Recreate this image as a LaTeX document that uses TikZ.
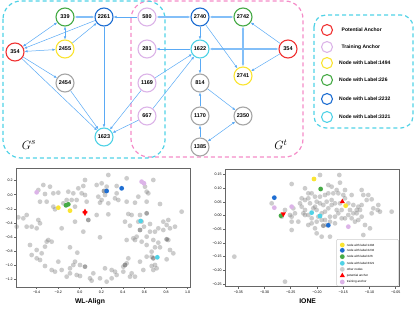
\documentclass[tikz,border=0pt]{standalone}
\usepackage{fontspec}
\setmainfont{Liberation Sans}
\usetikzlibrary{arrows.meta, shapes.geometric}
\definecolor{edgeblue}{RGB}{90,170,245}
\definecolor{ancred}{RGB}{240,50,50}
\definecolor{trplum}{RGB}{220,180,232}
\definecolor{lbyellow}{RGB}{250,228,50}
\definecolor{lbgreen}{RGB}{70,170,70}
\definecolor{lbblue}{RGB}{30,110,210}
\definecolor{lbcyan}{RGB}{80,210,230}
\definecolor{boxpink}{RGB}{245,140,200}
\tikzset{gnode/.style={circle,draw=#1,fill=white,line width=1.1pt,minimum size=18pt,inner sep=0pt,font=\fontsize{5.5}{6}\selectfont\bfseries},
  line/.style={draw=edgeblue,line width=0.5pt,-{Latex[length=3pt,width=2.6pt]}},
  biline/.style={line,{Latex[length=3pt,width=2.6pt]}-{Latex[length=3pt,width=2.6pt]}},
  pairline/.style={biline,line width=1.3pt,draw=edgeblue!75},
  groupbox/.style={line width=1.2pt,dash pattern=on 4pt off 3pt,rounded corners=18pt},
  keycircle/.style={circle,draw=#1,line width=1.1pt,minimum size=11pt,inner sep=0pt},
  keytext/.style={anchor=west,inner sep=0pt,font=\fontsize{5}{6}\selectfont\bfseries},
  dot/.style={circle,fill=#1,minimum size=4.8pt,inner sep=0pt},
  gray dot/.style={dot=gray,opacity=0.4},
  dark dot/.style={dot=gray!80!black,opacity=0.6},
  tri/.style={regular polygon,regular polygon sides=3,fill=#1,minimum size=6pt,inner sep=0pt},
  axisline/.style={draw=black!60,line width=0.6pt},
  ticklab/.style={inner sep=0.5pt,font=\fontsize{3.6}{4}\selectfont},
  plottitle/.style={font=\fontsize{6.8}{8}\selectfont\bfseries},
  legtext/.style={anchor=west,inner sep=0pt,font=\fontsize{3}{3.5}\selectfont}}
\begin{document}
\begin{tikzpicture}[x=1pt,y=-1pt]
\useasboundingbox (0,0) rectangle (415,310);
% graph boxes
\draw[groupbox,boxpink] (131,1) rectangle (303,157);
\draw[groupbox,lbcyan] (3,1) rectangle (165,158);
\draw[groupbox,lbcyan,rounded corners=12pt] (314,15) rectangle (413,128);
% source graph
\node[gnode=ancred] (s354) at (15,52) {354};
\node[gnode=lbgreen] (s339) at (65,17) {339};
\node[gnode=lbblue] (s2261) at (104,17) {2261};
\node[gnode=lbyellow] (s2455) at (65,49) {2455};
\node[gnode=gray!70] (s2454) at (65,83) {2454};
\node[gnode=lbcyan] (s1623) at (104,137) {1623};
% training anchors
\node[gnode=trplum] (a580) at (147,17) {580};
\node[gnode=trplum] (a281) at (147,49) {281};
\node[gnode=trplum] (a1169) at (147,83) {1169};
\node[gnode=trplum] (a667) at (147,116) {667};
% target graph
\node[gnode=lbblue] (t2740) at (200,17) {2740};
\node[gnode=lbgreen] (t2742) at (243,17) {2742};
\node[gnode=lbcyan] (t1622) at (200,49) {1622};
\node[gnode=ancred] (t354) at (288,49) {354};
\node[gnode=lbyellow] (t2741) at (243,76) {2741};
\node[gnode=gray!70] (t814) at (200,83) {814};
\node[gnode=gray!70] (t1170) at (200,116) {1170};
\node[gnode=gray!70] (t2350) at (243,116) {2350};
\node[gnode=gray!70] (t1385) at (200,147) {1385};
\node[font=\fontsize{13}{14}\selectfont] (gs) at (29,145) {$G^s$};
\node[font=\fontsize{13}{14}\selectfont] (gt) at (281,145) {$G^t$};
% edges
\draw[biline] (s354) -- (s339);
\draw[pairline] (s339) -- (s2261);
\draw[biline] (s339) -- (s2455);
\draw[biline] (s354) -- (s2455);
\draw[line] (s2455) -- (s2261);
\draw[line] (s2261) -- (s354);
\draw[line] (s354) -- (s2454);
\draw[line] (s354) -- (s1623);
\draw[line] (s2454) -- (s1623);
\draw[line] (s2261) -- (s1623);
\draw[line] (a580) -- (s2261);
\draw[line] (a1169) -- (s1623);
\draw[line] (a667) -- (s1623);
\draw[pairline] (t2740) -- (a580);
\draw[pairline] (t354) -- (t1622);
\draw[line] (t1622) -- (a281);
\draw[line] (a1169) -- (t1622);
\draw[line] (a667) -- (t1622);
\draw[line] (t2740) -- (t1622);
\draw[pairline] (t2740) -- (t2742);
\draw[pairline] (t2742) -- (t2741);
\draw[line] (t354) -- (t2742);
\draw[line] (t354) -- (t2741);
\draw[line] (t2740) -- (t2741);
\draw[line] (t1622) -- (t814);
\draw[line] (t1170) -- (t814);
\draw[line] (t814) -- (t2350);
\draw[line] (t1385) -- (t1170);
\draw[biline] (t1385) -- (t2350);
% legend
\node[keycircle=ancred] (k1) at (327,30) {};
\node[keycircle=trplum] (k2) at (327,47) {};
\node[keycircle=lbyellow] (k3) at (327,63) {};
\node[keycircle=lbgreen] (k4) at (327,80) {};
\node[keycircle=lbblue] (k5) at (327,99) {};
\node[keycircle=lbcyan] (k6) at (327,117) {};
\node[keytext] at (341.5,30) {Potential Anchor};
\node[keytext] at (341.5,47) {Training Anchor};
\node[keytext] at (339,63) {Node with Label:1494};
\node[keytext] at (339,80) {Node with Label:226};
\node[keytext] at (339,99) {Node with Label:2232};
\node[keytext] at (339,117) {Node with Label:3321};
% WL-Align embedding
\begin{scope}[shift={(0,160)},x=0.3333pt,y=-0.3333pt]
\foreach \px/\py in {130/75,150/80,115/90,135/102,160/100,175/98,205/95,220/100,235/85,250/78,255/60,245/100,255/105,200/120,215/120,190/130,140/125,120/125,160/140,165/148,230/120,225/140,260/125,290/75,305/70,325/45,320/80,295/110,305/120,300/128,315/105,325/130,350/100,345/115,355/120,380/55,350/78,380/125,405/128,435/80,440/95,440/125,460/60,480/132,445/100,415/110,80/165,70/175,80/200,95/200,115/180,120/190,110/205,185/205,225/185,290/165,325/163,385/162,395/165,420/165,425/185,415/185,450/192,375/185,390/197,400/235,405/240,425/245,440/255,410/230,465/215,490/185,505/180,500/195,510/205,525/200,505/240,545/155,490/210,465/262,480/262,500/298,455/290,465/315,455/318,440/290,460/330,470/325,420/305,385/295,380/310,370/320,370/335,395/340,405/350,345/335,350/345,335/330,315/325,300/355,280/340,270/355,230/345,240/348,210/325,220/315,210/340,200/350,185/330,175/305,165/335,155/330,135/318,110/295,120/300,125/280,95/285,90/255,140/245,145/240,155/245,135/260,210/262,232/278,250/215,300/232,240/315,225/305,275/362,320/365,335/355,390/350,430/330,455/275,510/270,520/280,475/248,460/240,440/230,432/200,475/205,450/215,380/240,55/172,50/200,110/270}
  \node[gray dot] at (\px,\py) {};
\foreach \px/\py in {312/93,265/180,440/160,420/210,375/315,460/295,500/238,255/320}
  \node[dark dot] at (\px,\py) {};
\foreach \px/\py in {110/97,425/65,432/70} \node[dot=trplum] at (\px,\py) {};
\foreach \px/\py in {175/143,210/152} \node[dot=lbyellow] at (\px,\py) {};
\foreach \px/\py in {205/133,198/136} \node[dot=lbgreen] at (\px,\py) {};
\foreach \px/\py in {320/93,365/85} \node[dot=lbblue] at (\px,\py) {};
\foreach \px/\py in {422/183,472/292} \node[dot=lbcyan] at (\px,\py) {};
\node[tri=red] at (255,155) {};
\node[tri=red,rotate=180] at (255,159) {};
\draw[axisline] (48,25) rectangle (572,382);
\foreach \v [count=\i from 0] in {0.2,0.0,−0.2,−0.4,−0.6,−0.8,−1.0,−1.2} {
  \draw[axisline] (48,{62+42.3*\i}) -- ++(-6,0);
  \node[ticklab,anchor=east] at (40,{62+42.3*\i}) {\v};
}
\foreach \v [count=\i from 0] in {−0.4,−0.2,0.0,0.2,0.4,0.6,0.8,1.0} {
  \draw[axisline] ({110+64.7*\i},382) -- ++(0,6);
  \node[ticklab] at ({110+64.7*\i},398) {\v};
}
\node[plottitle] (wl) at (270,425) {WL-Align};
\end{scope}
% IONE embedding
\begin{scope}[shift={(205,160)},x=0.3333pt,y=-0.3333pt]
\foreach \px/\py in {260/72,300/85,310/100,345/45,370/75,380/80,403/45,405/68,395/90,420/90,440/105,470/90,475/105,490/105,500/118,485/120,520/135,518/150,560/155,525/155,470/135,460/140,455/150,445/135,430/130,435/150,420/115,415/105,400/100,385/100,370/100,360/105,345/110,330/110,320/100,310/115,300/120,290/115,285/130,290/140,300/150,295/160,315/130,325/145,335/150,340/170,350/160,360/155,370/145,380/135,390/130,380/120,365/125,355/135,345/130,335/125,330/140,310/165,300/165,320/175,335/185,350/180,360/180,375/170,390/170,400/160,410/150,420/175,430/165,440/175,450/185,460/180,455/160,390/190,395/150,405/130,410/175,375/185,365/195,330/205,350/230,335/220,375/230,200/130,240/150,255/165,260/170,230/170,270/160,265/145,280/185,260/185,475/225,495/205,500/160,470/170,480/195,260/210,310/195,320/190,240/365,88/290,445/160,465/150,505/145}
  \node[gray dot] at (\px,\py) {};
\node[dark dot] at (355,197) {};
\foreach \px/\py in {208/143,260/140,430/200} \node[dot=trplum] at (\px,\py) {};
\foreach \px/\py in {327/57,422/137} \node[dot=lbyellow] at (\px,\py) {};
\foreach \px/\py in {208/113,370/196} \node[dot=lbblue] at (\px,\py) {};
\foreach \px/\py in {347/87,228/167} \node[dot=lbgreen] at (\px,\py) {};
\foreach \px/\py in {320/158,345/168} \node[dot=lbcyan] at (\px,\py) {};
\node[tri=red] at (412,125) {};
\node[tri=red,rotate=180] at (235,162) {};
\draw[axisline] (60,28) rectangle (583,380);
\foreach \v [count=\i from 0] in {0.15,0.10,0.05,0.00,−0.05,−0.10,−0.15,−0.20,−0.25} {
  \draw[axisline] (60,{44+41*\i}) -- ++(-6,0);
  \node[ticklab,anchor=east] at (52,{44+41*\i}) {\v};
}
\foreach \v [count=\i from 0] in {−0.35,−0.30,−0.25,−0.20,−0.15,−0.10,−0.05} {
  \draw[axisline] ({100+78.7*\i},380) -- ++(0,6);
  \node[ticklab] at ({100+78.7*\i},398) {\v};
}
% plot legend
\draw[draw=black!20,fill=white,rounded corners=1pt] (395,238) rectangle (580,378);
\node[dot=lbyellow] at (412,255) {};
\node[dot=lbblue] at (412,271) {};
\node[dot=lbgreen] at (412,290) {};
\node[dot=lbcyan] at (412,310) {};
\node[gray dot] at (412,328) {};
\node[tri=red] at (412,347) {};
\node[dot=trplum] at (412,366) {};
\node[legtext] at (425,255) {node with label:1494};
\node[legtext] at (425,271) {node with label:2232};
\node[legtext] at (425,290) {node with label:226};
\node[legtext] at (425,310) {node with label:3321};
\node[legtext] at (425,328) {other nodes};
\node[legtext] at (425,347) {potential anchor};
\node[legtext] at (425,366) {training anchor};
\node[plottitle] (ione) at (308,425) {IONE};
\end{scope}
\end{tikzpicture}
\end{document}
